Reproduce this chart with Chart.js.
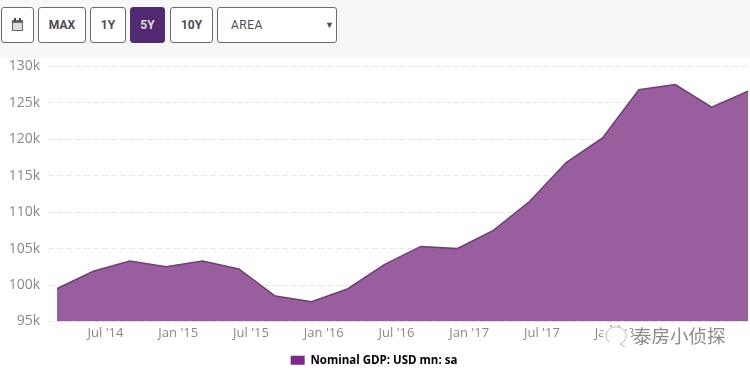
<!DOCTYPE html>
<html>
<head>
<meta charset="utf-8">
<script src="https://cdn.jsdelivr.net/npm/chart.js@4"></script>
<style>
  html, body { margin: 0; padding: 0; background: #fff; width: 750px; height: 368px; overflow: hidden; }
  #toolbar { position: absolute; left: 0; top: 0; width: 750px; height: 58px; background: #f7f7f7; z-index: 1; }
  .btn { position: absolute; top: 7px; height: 36px; box-sizing: border-box; border: 1px solid #6d6a75; border-radius: 3px;
         background: #fff; color: #4e4a57; font: bold 12px Roboto, sans-serif; line-height: 34px; text-align: center; }
  .btn.on { background: #512a72; border-color: #512a72; color: #ddd; }
  #wrap { position: absolute; left: 0; top: 50px; width: 750px; height: 318px; }
  #bubble { position: absolute; left: 598px; top: 321px; }
  #mark { position: absolute; left: 633px; top: 322px; font: 18.5px "Noto Sans CJK SC", sans-serif; color: #8a8a8a; white-space: nowrap; text-shadow: 0 0 2px #fff; }
</style>
</head>
<body>
<div id="toolbar">
  <div class="btn" style="left:1px;width:33px;">
    <svg width="13" height="14" viewBox="0 0 13 14" style="margin-top:10px"><rect x="1" y="2" width="11" height="11" fill="#6a6670"/><rect x="2" y="5" width="9" height="7" fill="#ddd"/><rect x="3" y="0" width="2" height="4" fill="#4e4a57"/><rect x="8" y="0" width="2" height="4" fill="#4e4a57"/></svg>
  </div>
  <div class="btn" style="left:38px;width:48px;">MAX</div>
  <div class="btn" style="left:90px;width:36px;">1Y</div>
  <div class="btn on" style="left:130px;width:35px;">5Y</div>
  <div class="btn" style="left:170px;width:43px;">10Y</div>
  <div class="btn" style="left:217px;width:120px;text-align:left;padding-left:13px;font-weight:normal;letter-spacing:.5px;">AREA<span style="position:absolute;left:107px;font-size:9px;top:0;">▼</span></div>
</div>
<div id="wrap"><canvas id="gdpChart"></canvas></div>
<svg id="bubble" width="34" height="28" viewBox="0 0 34 28">
  <ellipse cx="19" cy="13" rx="14" ry="12" fill="#fff"/>
  <path d="M11 21 A10 9 0 1 1 22 23 L27 26" fill="none" stroke="#bbb" stroke-width="1"/>
  <circle cx="13" cy="5" r="1" fill="#aaa"/><circle cx="21" cy="5" r="1" fill="#aaa"/><circle cx="28" cy="9" r="1" fill="#aaa"/>
</svg>
<div id="mark">泰房小侦探</div>
<script>
// --- DATA ---
// months counted from Mar 2014, one reading per quarter
const months = [0, 3, 6, 9, 12, 15, 18, 21, 24, 27, 30, 33, 36, 39, 42, 45, 48, 51, 54, 57];
const gdpValues = [99500, 101900, 103300, 102500, 103300, 102200, 98500, 97700, 99500, 102800,
                   105300, 105000, 107500, 111500, 116800, 120200, 126800, 127500, 124400, 126600];
const xTickMonths = [4, 10, 16, 22, 28, 34, 40, 46];
const xTickLabels = ["Jul '14", "Jan '15", "Jul '15", "Jan '16", "Jul '16", "Jan '17", "Jul '17", "Jan '18"];
const yTickValues = [95000, 100000, 105000, 110000, 115000, 120000, 125000, 130000];
const seriesName = 'Nominal GDP: USD mn: sa';

const chartData = months.map((m, i) => ({ x: m, y: gdpValues[i] }));

new Chart(document.getElementById('gdpChart').getContext('2d'), {
    type: 'line',
    data: {
        datasets: [{
            label: seriesName,
            data: chartData,
            borderColor: '#6e3f74',
            borderWidth: 1.5,
            backgroundColor: '#995e9e',
            fill: 'origin',
            pointRadius: 0,
            tension: 0
        }]
    },
    options: {
        responsive: true,
        maintainAspectRatio: false,
        animation: false,
        layout: { padding: { top: 0, right: 2, left: 0, bottom: -8 } },
        plugins: {
            tooltip: { enabled: false },
            legend: {
                position: 'bottom',
                labels: {
                    boxWidth: 14,
                    boxHeight: 9,
                    padding: 2,
                    color: '#6b6b6b',
                    font: { family: 'Open Sans', size: 11.5, weight: 'bold' },
                    generateLabels: () => [{ text: seriesName, fillStyle: '#7b2a85', strokeStyle: '#7b2a85', lineWidth: 0, datasetIndex: 0 }]
                }
            }
        },
        scales: {
            x: {
                type: 'linear',
                min: months[0],
                max: months[months.length - 1],
                grid: { display: false, drawTicks: false },
                border: { display: false },
                afterBuildTicks: axis => { axis.ticks = xTickMonths.map(v => ({ value: v })); },
                afterFit: axis => { axis.height = 31; },
                ticks: {
                    autoSkip: false,
                    maxRotation: 0,
                    padding: 4,
                    color: '#888',
                    font: { family: 'Open Sans', size: 13 },
                    callback: value => xTickLabels[xTickMonths.indexOf(value)]
                }
            },
            y: {
                min: 95000,
                max: 130000,
                border: { display: false, dash: [6, 3] },
                grid: { color: '#e8e8e8', tickLength: 9, tickBorderDash: [6, 3] },
                afterBuildTicks: axis => { axis.ticks = yTickValues.map(v => ({ value: v })); },
                afterFit: axis => { axis.width = 57; },
                ticks: {
                    padding: 8,
                    color: '#888',
                    font: { family: 'Open Sans', size: 14 },
                    callback: value => (value / 1000) + 'k'
                }
            }
        }
    }
});
</script>
</body>
</html>
